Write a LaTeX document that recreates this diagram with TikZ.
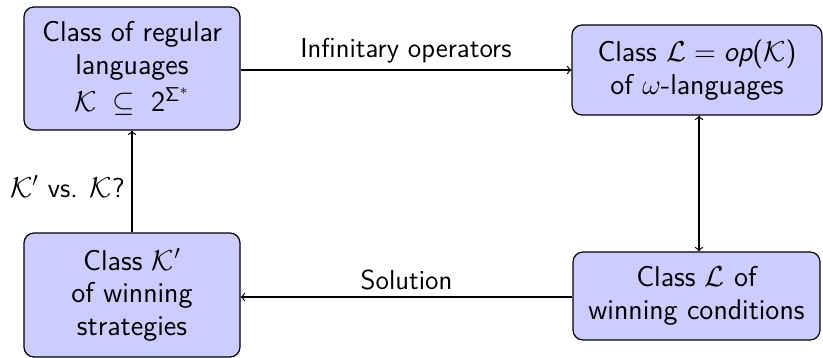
\documentclass[tikz,border=0pt]{standalone}
\usepackage{amsmath}
\begin{document}
\begin{tikzpicture}[x=0.5pt,y=-0.5pt,
  every node/.style={font=\fontsize{14.3}{16.4}\selectfont\sffamily},
  block/.style={draw=black, line width=0.6pt, fill=blue!20, rounded corners=5pt,
    align=center, inner sep=0pt},
  edgelabel/.style={font=\fontsize{13.7}{16.4}\selectfont\sffamily},
  link/.style={line width=0.6pt, -to}]
  \useasboundingbox (0,0) rectangle (823,358);

  % the four classes
  \node[block, minimum width=108pt, minimum height=61.5pt] (reg) at (132,68.5)
    {Class of regular\\languages\\[2.5pt]$\mathcal{K}\;\subseteq\;\mathsf{2}^{\mathsf{\Sigma}^*}$};
  \node[block, minimum width=125pt, minimum height=45pt] (omega) at (697,70)
    {Class $\mathcal{L} = \text{\itshape op}\text{(}\mathcal{K}\text{)}$\\of $\omega$-languages};
  \node[block, minimum width=123.5pt, minimum height=44pt] (cond) at (696.5,296)
    {Class $\mathcal{L}$ of\\winning conditions};
  \node[block, minimum width=108pt, minimum height=62pt] (strat) at (132,295)
    {Class $\mathcal{K}'$\\of winning\\strategies};

  % connectors between them
  \draw[link] (reg.east |- 0,70) -- node[above, edgelabel] (oplab) {Infinitary operators} (omega.west |- 0,70);
  \draw[link, to-to] (699,0 |- omega.south) -- (699,0 |- cond.north);
  \draw[link] (cond.west |- 0,297) -- node[above, edgelabel] (sollab) {Solution} (strat.east |- 0,297);
  \draw[link] (strat.north) -- node[left, pos=0.45, edgelabel] (cmplab) {$\mathcal{K}'$ vs. $\mathcal{K}$?} (reg.south);
\end{tikzpicture}
\end{document}
